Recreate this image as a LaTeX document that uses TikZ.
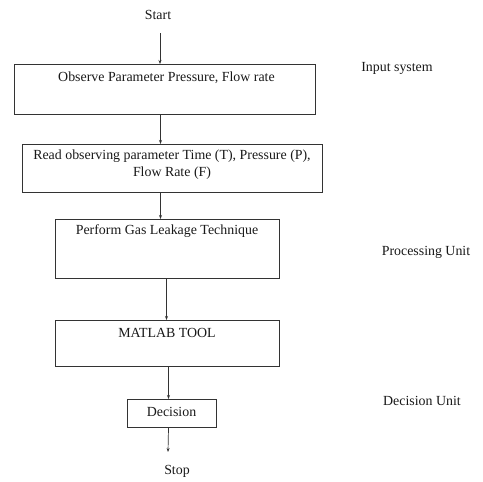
\documentclass[tikz,border=0pt]{standalone}
\usepackage{fontspec}
\setmainfont{Liberation Serif}
\usetikzlibrary{arrows.meta}
\begin{document}
\begin{tikzpicture}[x=1pt,y=-1pt,
  box/.style={draw=black!80,line width=1pt,inner sep=0pt,anchor=north west},
  txt/.style={font=\fontsize{13.9}{17}\selectfont,text=black!90,inner sep=0pt},
  arr/.style={draw=black!80,line width=0.7pt,-{Stealth[length=4pt,width=3pt]}}]
\useasboundingbox (0,0) rectangle (483,482);
% boxes
\node[box,minimum width=301pt,minimum height=50pt] (b1) at (14,64) {};
\node[box,minimum width=300pt,minimum height=48pt] (b2) at (22,144) {};
\node[box,minimum width=224pt,minimum height=59pt] (b3) at (55,219) {};
\node[box,minimum width=224pt,minimum height=46pt] (b4) at (55,320) {};
\node[box,minimum width=89pt,minimum height=28pt] (b5) at (127,399) {};
% texts
\node[txt] (start) at (158,15) {Start};
\node[txt] (t1) at (166.5,78) {Observe Parameter Pressure, Flow rate};
\node[txt,align=center] (t2) at (172,165) {Read observing parameter Time (T), Pressure (P),\\Flow Rate (F)};
\node[txt] (t3) at (167,231) {Perform Gas Leakage Technique};
\node[txt] (t4) at (167,333) {MATLAB TOOL};
\node[txt] (t5) at (171.5,412) {Decision};
\node[txt] (stop) at (177,471) {Stop};
\node[txt] (in) at (397,68) {Input system};
\node[txt] (proc) at (426,252) {Processing Unit};
\node[txt] (dec) at (422,401) {Decision Unit};
% connectors
\coordinate (s0) at (160,33);
\coordinate (s1) at (168,452);
\draw[arr] (s0) -- (s0 |- b1.north);
\draw[arr] ([xshift=-4.5pt]b1.south) -- ([xshift=-4.5pt]b1.south |- b2.north);
\draw[arr] ([xshift=-12pt]b2.south) -- ([xshift=-12pt]b2.south |- b3.north);
\draw[arr] ([xshift=-1pt]b3.south) -- ([xshift=-1pt]b3.south |- b4.north);
\draw[arr] ([xshift=1pt]b4.south) -- ([xshift=1pt]b4.south |- b5.north);
\draw[arr] ([xshift=-3.5pt]b5.south) -- (s1);
\end{tikzpicture}
\end{document}
